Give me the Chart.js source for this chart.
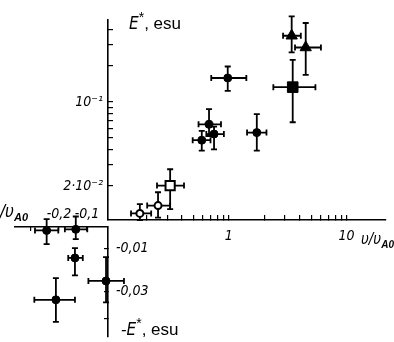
<!DOCTYPE html>
<html>
<head>
<meta charset="utf-8">
<script src="https://cdn.jsdelivr.net/npm/chart.js@4.4.1/dist/chart.umd.min.js"></script>
<style>
  html, body { margin: 0; padding: 0; background: #fff; }
  #wrap { position: relative; width: 394px; height: 342px; overflow: hidden; }
  #wrap canvas { position: absolute; left: 0; top: 0; }
  .lbl { position: absolute; font-family: 'Liberation Sans', Arial, sans-serif; font-size: 17px; color: #000; white-space: nowrap; line-height: 1; }
  .lbl i { font-family: 'Liberation Sans Narrow', 'DejaVu Sans Condensed', sans-serif; }
  .lbl sup { font-size: 14px; vertical-align: 7px; line-height: 0; }
  .lbl sub { font-size: 10px; vertical-align: -4px; line-height: 0; font-style: italic; font-weight: bold; }
</style>
</head>
<body>
<div id="wrap">
  <canvas id="graficoArriba" width="394" height="342"></canvas>
  <canvas id="graficoAbajo" width="394" height="342"></canvas>
  <div class="lbl" style="left:129px;top:15px"><i>E</i><sup>*</sup>, esu</div>
  <div class="lbl" style="left:361px;top:231px;font-size:15px"><i>υ/υ</i><sub>A0</sub></div>
  <div class="lbl" style="right:366px;top:203px;font-size:17px"><i>-υ/υ</i><sub style="font-size:11px">A0</sub></div>
  <div class="lbl" style="left:121px;top:321px"><i>-E</i><sup>*</sup>, esu</div>
</div>
<script>
// panel superior: v/vA0 > 0, escala log-log
const upperXTicks = [0.2, 0.3, 0.4, 0.5, 0.6, 0.7, 0.8, 0.9, 1, 2, 3, 4, 5, 6, 7, 8, 9, 10];
const upperXTickLabels = ['', '', '', '', '', '', '', '', '1', '', '', '', '', '', '', '', '', '10'];
const upperYTicks = [0.02, 0.03, 0.04, 0.05, 0.06, 0.07, 0.08, 0.09, 0.1, 0.2, 0.3, 0.4];
const upperYTickLabels = ['2·10⁻²', '', '', '', '', '', '', '', '10⁻¹', '', '', ''];

// circulos llenos
const circX   = [0.98, 1.73, 0.68, 0.75, 0.59];
const circY   = [0.158, 0.0555, 0.065, 0.054, 0.048];
const circXLo = [0.71, 1.43, 0.554, 0.645, 0.494];
const circXHi = [1.41, 2.09, 0.859, 0.909, 0.70];
const circYLo = [0.1235, 0.0393, 0.052, 0.0403, 0.0393];
const circYHi = [0.197, 0.079, 0.087, 0.0623, 0.0573];

// circulos abiertos
const ringX   = [0.176, 0.251];
const ringY   = [0.0118, 0.0137];
const ringXLo = [0.148, 0.203];
const ringXHi = [0.2195, 0.318];
const ringYLo = [0.0104, 0.0109];
const ringYHi = [0.0141, 0.0177];

// cuadrado abierto
const openSqX = [0.318], openSqY = [0.0201];
const openSqXLo = [0.246], openSqXHi = [0.417];
const openSqYLo = [0.0128], openSqYHi = [0.0275];

// cuadrado lleno
const sqX = [3.49], sqY = [0.1326];
const sqXLo = [2.39], sqXHi = [5.44];
const sqYLo = [0.0677], sqYHi = [0.224];

// triangulos
const triX   = [3.42, 4.50];
const triY   = [0.355, 0.2835];
const triXLo = [2.89, 3.65];
const triXHi = [4.09, 6.06];
const triYLo = [0.258, 0.168];
const triYHi = [0.514, 0.453];

// panel inferior: v/vA0 < 0, escala lineal
const lowerXTicks = [-0.3, -0.2, -0.1];
const lowerXTickLabels = ['', '-0,2', '-0,1'];
const lowerYTicks = [-0.01, -0.03, -0.043];
const lowerYTickLabels = ['-0,01', '-0,03', ''];

const negX   = [-0.244, -0.140, -0.143, -0.211, -0.032];
const negY   = [-0.0016, -0.0011, -0.01445, -0.034, -0.0252];
const negXLo = [-0.2857, -0.179, -0.167, -0.288, -0.095];
const negXHi = [-0.2025, -0.099, -0.115, -0.143, 0.032];
const negYLo = [-0.008, -0.0057, -0.0226, -0.0443, -0.0352];
const negYHi = [0.0037, 0.0049, -0.0099, -0.0239, -0.0141];

const tickFont = { family: "'Liberation Sans Narrow', 'DejaVu Sans Condensed', sans-serif", size: 14, style: 'italic' };

function puntos(xs, ys) {
    return xs.map((x, i) => ({ x: x, y: ys[i] }));
}

function serie(xs, ys, xLo, xHi, yLo, yHi, estilo) {
    return Object.assign({
        data: puntos(xs, ys),
        xLo: xLo, xHi: xHi, yLo: yLo, yHi: yHi,
        borderColor: '#000',
        backgroundColor: '#000',
        borderWidth: 1,
        clip: false
    }, estilo);
}

// barras de error con topes
const barrasError = {
    id: 'barrasError',
    beforeDatasetsDraw(chart) {
        const ctx = chart.ctx;
        const sx = chart.scales.x, sy = chart.scales.y;
        const cap = 3;
        ctx.save();
        ctx.strokeStyle = '#000';
        ctx.lineWidth = 1.8;
        chart.data.datasets.forEach(ds => {
            ds.data.forEach((p, i) => {
                const px = sx.getPixelForValue(p.x), py = sy.getPixelForValue(p.y);
                const x0 = sx.getPixelForValue(ds.xLo[i]), x1 = sx.getPixelForValue(ds.xHi[i]);
                const y0 = sy.getPixelForValue(ds.yLo[i]), y1 = sy.getPixelForValue(ds.yHi[i]);
                ctx.beginPath();
                ctx.moveTo(x0, py); ctx.lineTo(x1, py);
                ctx.moveTo(x0, py - cap); ctx.lineTo(x0, py + cap);
                ctx.moveTo(x1, py - cap); ctx.lineTo(x1, py + cap);
                ctx.moveTo(px, y0); ctx.lineTo(px, y1);
                ctx.moveTo(px - cap, y0); ctx.lineTo(px + cap, y0);
                ctx.moveTo(px - cap, y1); ctx.lineTo(px + cap, y1);
                ctx.stroke();
            });
        });
        ctx.restore();
    }
};

function eje(tipo, min, max, valores, etiquetas, medida, largo, padding) {
    return {
        type: tipo,
        min: min,
        max: max,
        afterBuildTicks: s => { s.ticks = valores.map(v => ({ value: v })); },
        afterFit: s => {
            if (s.isHorizontal()) s.height = medida; else s.width = medida;
            s.paddingTop = 0; s.paddingBottom = 0; s.paddingLeft = 0; s.paddingRight = 0;
        },
        border: { display: true, color: '#000', width: 1.6 },
        grid: { drawOnChartArea: false, drawTicks: true, tickLength: largo, color: '#000', lineWidth: 1.2 },
        ticks: {
            autoSkip: false,
            maxRotation: 0,
            padding: padding,
            color: '#000',
            font: tickFont,
            callback: (v, i) => etiquetas[i]
        }
    };
}

document.addEventListener('DOMContentLoaded', function() {
    const ctxArriba = document.getElementById('graficoArriba').getContext('2d');
    new Chart(ctxArriba, {
        type: 'scatter',
        data: {
            datasets: [
                serie(circX, circY, circXLo, circXHi, circYLo, circYHi, { pointStyle: 'circle', pointRadius: 4 }),
                serie(ringX, ringY, ringXLo, ringXHi, ringYLo, ringYHi, { pointStyle: 'circle', pointRadius: 3.5, backgroundColor: '#fff', borderWidth: 2 }),
                serie(openSqX, openSqY, openSqXLo, openSqXHi, openSqYLo, openSqYHi, { pointStyle: 'rect', pointRadius: 6.5, backgroundColor: '#fff', borderWidth: 2 }),
                serie(sqX, sqY, sqXLo, sqXHi, sqYLo, sqYHi, { pointStyle: 'rect', pointRadius: 7.5 }),
                serie(triX, triY, triXLo, triXHi, triYLo, triYHi, { pointStyle: 'triangle', pointRadius: 6.5 })
            ]
        },
        options: {
            responsive: false,
            animation: false,
            events: [],
            layout: { padding: { left: 0, top: 20, right: 1, bottom: 0 } },
            plugins: { legend: { display: false }, tooltip: { enabled: false } },
            scales: {
                x: eje('logarithmic', 0.0944, 21.4, upperXTicks, upperXTickLabels, 122, -5, 13),
                y: eje('logarithmic', 0.0104, 0.48, upperYTicks, upperYTickLabels, 108, -5, 10)
            }
        },
        plugins: [barrasError]
    });

    const ctxAbajo = document.getElementById('graficoAbajo').getContext('2d');
    const ejeXAbajo = eje('linear', -0.357, -0.025, lowerXTicks, lowerXTickLabels, 227, -4, 8);
    ejeXAbajo.position = 'top';
    const ejeYAbajo = eje('linear', -0.05136, 0, lowerYTicks, lowerYTickLabels, 286, -4, 12);
    ejeYAbajo.position = 'right';
    new Chart(ctxAbajo, {
        type: 'scatter',
        data: {
            datasets: [
                serie(negX, negY, negXLo, negXHi, negYLo, negYHi, { pointStyle: 'circle', pointRadius: 4 })
            ]
        },
        options: {
            responsive: false,
            animation: false,
            events: [],
            layout: { padding: { left: 15, top: 0, right: 0, bottom: 2 } },
            plugins: { legend: { display: false }, tooltip: { enabled: false } },
            scales: { x: ejeXAbajo, y: ejeYAbajo }
        },
        plugins: [barrasError]
    });
});
</script>
</body>
</html>
